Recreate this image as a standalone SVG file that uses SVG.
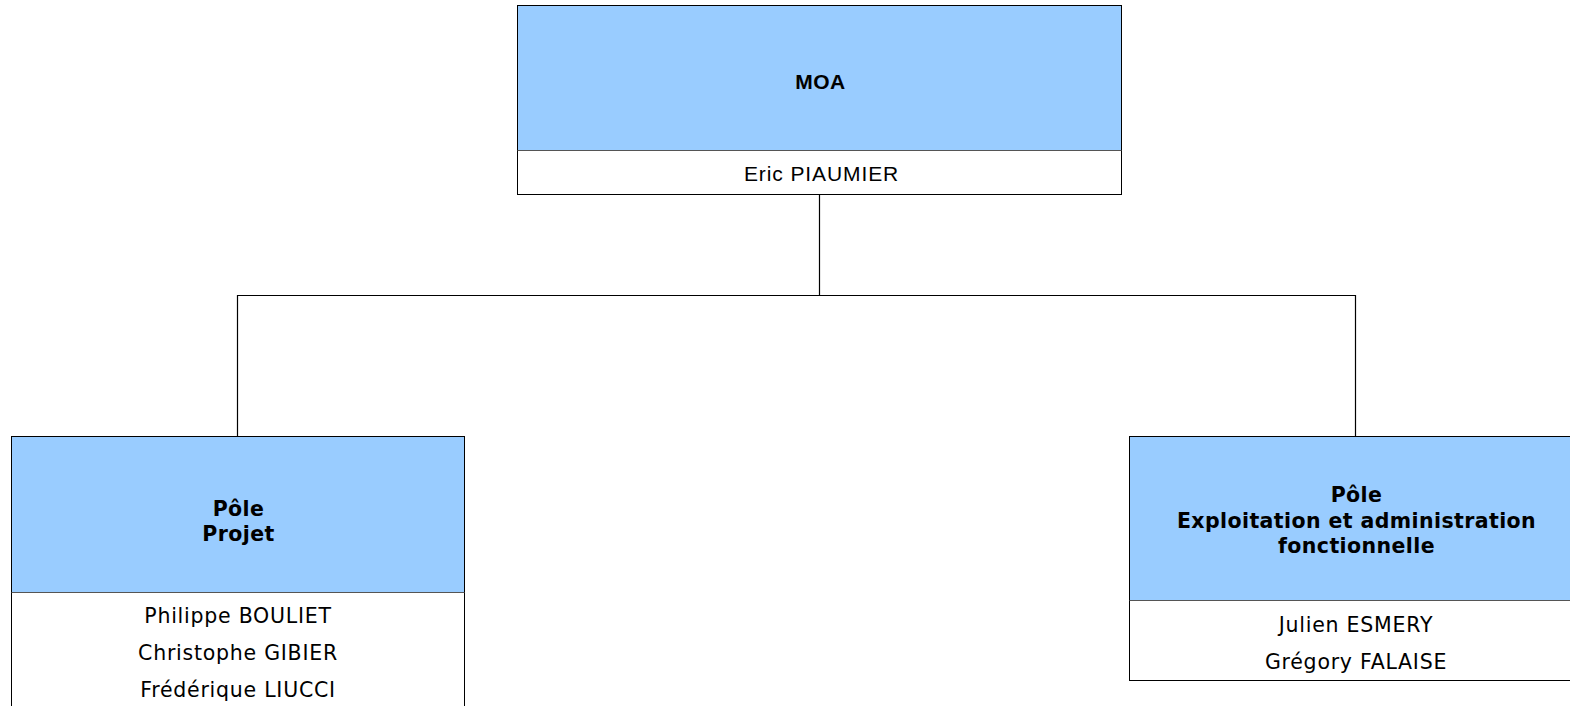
<svg xmlns="http://www.w3.org/2000/svg" width="1570" height="706" viewBox="0 0 1570 706">
<style>
.head{fill:#99ccff;stroke:#000;stroke-width:1}
.body{fill:#fff;stroke:#000;stroke-width:1}
.div{stroke:#555;stroke-width:1.2}
.t{font-family:"DejaVu Sans",Verdana,sans-serif;font-size:20.5px;fill:#000;text-anchor:middle;letter-spacing:0.75px}
.b{font-weight:bold;letter-spacing:0.4px}
.a{font-family:"Liberation Sans",Arial,sans-serif;font-size:21px;fill:#000;text-anchor:middle}
.conn{fill:none;stroke:#000;stroke-width:1.2}
</style>
<rect width="1570" height="706" fill="#fff"/>
<g id="connectors">
<path class="conn" d="M819.5 195 V295.5 M237.5 436 V295.5 H1355.5 V436"/>
</g>
<g id="moa">
<rect class="body" x="517.5" y="5.5" width="604" height="189"/>
<rect class="head" x="517.5" y="5.5" width="604" height="145"/>
<line class="div" x1="517.5" y1="150.5" x2="1121.5" y2="150.5"/>
<text class="a" x="820.5" y="89" font-size="22.5" font-weight="bold" letter-spacing="0.5">MOA</text>
<text class="a" x="821.5" y="181" letter-spacing="0.9">Eric PIAUMIER</text>
</g>
<g id="pole-projet">
<rect class="body" x="11.5" y="436.5" width="453" height="290"/>
<rect class="head" x="11.5" y="436.5" width="453" height="156"/>
<line class="div" x1="11.5" y1="592.5" x2="464.5" y2="592.5"/>
<text class="t b" x="238.5" y="516">Pôle</text>
<text class="t b" x="238.5" y="541">Projet</text>
<text class="t" x="238" y="623">Philippe BOULIET</text>
<text class="t" x="238" y="660">Christophe GIBIER</text>
<text class="t" x="238" y="697">Frédérique LIUCCI</text>
</g>
<g id="pole-exploitation">
<rect class="body" x="1129.5" y="436.5" width="453" height="244"/>
<rect class="head" x="1129.5" y="436.5" width="453" height="164"/>
<line class="div" x1="1129.5" y1="600.5" x2="1582.5" y2="600.5"/>
<text class="t b" x="1356.5" y="502">Pôle</text>
<text class="t b" x="1356.5" y="528">Exploitation et administration</text>
<text class="t b" x="1356.5" y="553">fonctionnelle</text>
<text class="t" x="1356" y="632">Julien ESMERY</text>
<text class="t" x="1356" y="669">Grégory FALAISE</text>
</g>
</svg>
